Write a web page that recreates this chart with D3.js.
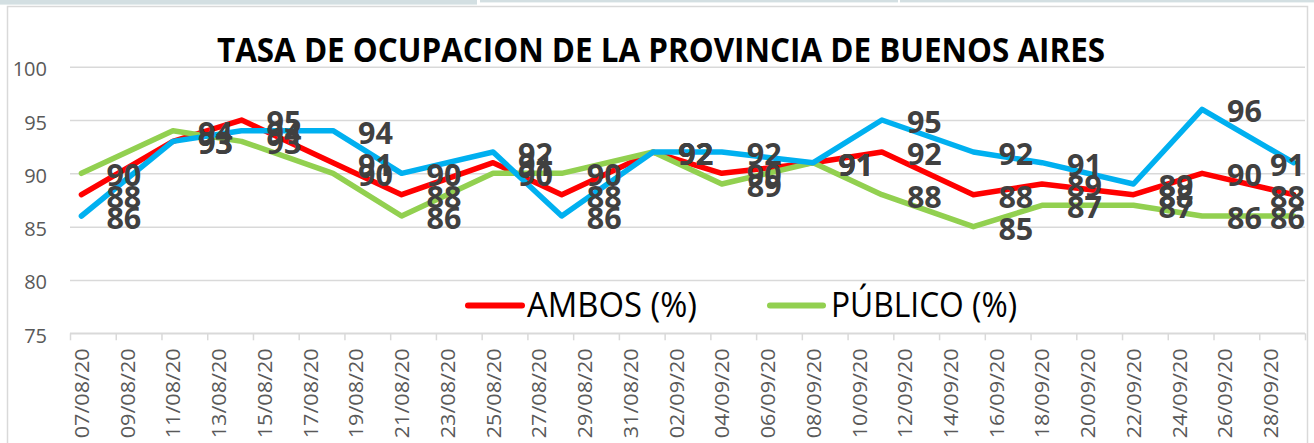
<!DOCTYPE html>
<html>
<head>
<meta charset="utf-8">
<script src="https://cdn.jsdelivr.net/npm/d3@7"></script>
<style>
  html, body { margin: 0; padding: 0; background: #ffffff; }
  svg { display: block; }
</style>
</head>
<body>
<svg id="chart" width="1314" height="443"></svg>
<script>
// ---- data ----
const title = "TASA DE OCUPACION DE LA PROVINCIA DE BUENOS AIRES";
const dates = ["07/08/20","11/08/20","14/08/20","18/08/20","21/08/20","25/08/20","28/08/20","01/09/20",
               "04/09/20","08/09/20","11/09/20","15/09/20","18/09/20","22/09/20","25/09/20","29/09/20"];
const ambos   = [88, 93, 95, 91, 88, 91, 88, 92, 90, 91, 92, 88, 89, 88, 90, 88];
const publico = [90, 94, 93, 90, 86, 90, 90, 92, 89, 91, 88, 85, 87, 87, 86, 86];
const privado = [86, 93, 94, 94, 90, 92, 86, 92, 92, 91, 95, 92, 91, 89, 96, 91];
const seriesNames = ["AMBOS (%)", "PÚBLICO (%)", "PRIVADO (%)"];
const seriesColors = ["#ff0000", "#92d050", "#00b0f0"];
const legendNames = ["AMBOS (%)", "PÚBLICO (%)"];
const yTicks = [75, 80, 85, 90, 95, 100];
const xTickLabels = ["07/08/20","09/08/20","11/08/20","13/08/20","15/08/20","17/08/20","19/08/20",
                     "21/08/20","23/08/20","25/08/20","27/08/20","29/08/20","31/08/20","02/09/20",
                     "04/09/20","06/09/20","08/09/20","10/09/20","12/09/20","14/09/20","16/09/20",
                     "18/09/20","20/09/20","22/09/20","24/09/20","26/09/20","28/09/20"];

// ---- setup ----
const parse = d3.utcParse("%d/%m/%y");
const svg = d3.select("#chart");
const W = 1314, H = 443;
const plotL = 70, plotR = 1305, plotT = 66.7, plotB = 333.3;
const FONT = "'Open Sans', 'Noto Sans', sans-serif";

const dDates = dates.map(parse);
const first = dDates[0], last = dDates[dDates.length - 1];
const x = d3.scaleUtc()
  .domain([d3.utcHour.offset(first, -12), d3.utcHour.offset(last, 12)])
  .range([plotL, plotR]);
const y = d3.scaleLinear().domain([75, 100]).range([plotB, plotT]);

// spreadsheet strip at top
svg.append("rect").attr("x", 0).attr("y", 0).attr("width", 477).attr("height", 4.6).attr("fill", "#d3dfe2");
svg.append("rect").attr("x", 480).attr("y", 0).attr("width", 418).attr("height", 2.4).attr("fill", "#d3dfe2");
svg.append("rect").attr("x", 900).attr("y", 0).attr("width", 414).attr("height", 2.4).attr("fill", "#d3dfe2");

// chart area border
svg.append("rect").attr("x", 7.5).attr("y", 6.5).attr("width", 1300).attr("height", 470)
  .attr("fill", "#ffffff").attr("stroke", "#d9d9d9").attr("stroke-width", 1.5);

// title
svg.append("text").attr("x", 217).attr("y", 61.7)
  .attr("font-family", FONT).attr("font-weight", 700).attr("font-size", 34)
  .attr("fill", "#000000")
  .attr("textLength", 888).attr("lengthAdjust", "spacingAndGlyphs")
  .text(title);

// y axis + gridlines
const yAxis = svg.append("g").attr("transform", `translate(${plotL},0)`)
  .call(d3.axisLeft(y).tickValues(yTicks).tickSize(-(plotR - plotL)).tickPadding(23));
yAxis.select(".domain").remove();
yAxis.selectAll(".tick line").attr("stroke", "#d9d9d9").attr("stroke-width", 1.5);
yAxis.selectAll(".tick text").attr("font-family", FONT).attr("font-size", 20)
  .attr("fill", "#595959").attr("dy", "0.45em");

// x axis line
svg.append("line").attr("x1", plotL).attr("x2", plotR).attr("y1", plotB).attr("y2", plotB)
  .attr("stroke", "#d9d9d9").attr("stroke-width", 1.5);

// x tick marks (between days)
const labelDates = xTickLabels.map(parse);
const markDates = labelDates.map(d => d3.utcHour.offset(d, -12)).concat([x.domain()[1]]);
const xMarks = svg.append("g").attr("transform", `translate(0,${plotB})`)
  .call(d3.axisBottom(x).tickValues(markDates).tickSize(7).tickFormat(""));
xMarks.select(".domain").remove();
xMarks.selectAll(".tick line").attr("stroke", "#d9d9d9").attr("stroke-width", 1.5);

// x labels
const xLab = svg.append("g").attr("transform", `translate(0,${plotB})`)
  .call(d3.axisBottom(x).tickValues(labelDates).tickSize(0).tickFormat((d, i) => xTickLabels[i]));
xLab.select(".domain").remove();
xLab.selectAll(".tick text")
  .attr("font-family", FONT).attr("font-size", 20).attr("fill", "#595959")
  .attr("text-anchor", "end").attr("transform", "rotate(-90)")
  .attr("x", -15).attr("y", 7).attr("dy", 0)
  .attr("textLength", 90).attr("lengthAdjust", "spacingAndGlyphs");

// series
const allSeries = [ambos, publico, privado].map((vals, si) => ({
  name: seriesNames[si], color: seriesColors[si],
  points: vals.map((v, i) => ({ date: dDates[i], v }))
}));

const line = d3.line().x(d => x(d.date)).y(d => y(d.v));
svg.append("g").selectAll("path").data(allSeries).join("path")
  .attr("d", s => line(s.points))
  .attr("fill", "none").attr("stroke", s => s.color).attr("stroke-width", 5.5)
  .attr("stroke-linejoin", "round").attr("stroke-linecap", "round");

// data labels
const labG = svg.append("g");
allSeries.forEach(s => {
  s.points.forEach(p => {
    const t = labG.append("text")
      .attr("font-family", FONT).attr("font-weight", 700).attr("font-size", 30.5)
      .attr("fill", "#404040")
      .attr("y", y(p.v) + 13)
      .text(p.v);
    const w = t.node().getComputedTextLength();
    let lx = x(p.date) + 25;
    if (lx + w > plotR) lx = plotR - w;
    t.attr("x", lx);
  });
});

// legend
const legendItems = [
  { name: legendNames[0], color: seriesColors[0], x1: 468, x2: 522, tx: 527, tl: 170 },
  { name: legendNames[1], color: seriesColors[1], x1: 770, x2: 823, tx: 831, tl: 186 }
];
const lg = svg.append("g");
legendItems.forEach(it => {
  lg.append("line").attr("x1", it.x1).attr("x2", it.x2).attr("y1", 305.5).attr("y2", 305.5)
    .attr("stroke", it.color).attr("stroke-width", 6).attr("stroke-linecap", "round");
  lg.append("text").attr("x", it.tx).attr("y", 316.5)
    .attr("font-family", FONT).attr("font-size", 34).attr("fill", "#000000")
    .attr("textLength", it.tl).attr("lengthAdjust", "spacingAndGlyphs")
    .text(it.name);
});
</script>
</body>
</html>
